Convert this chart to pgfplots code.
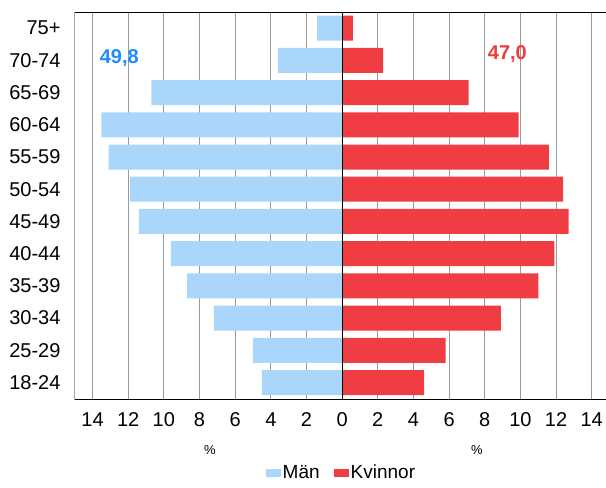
\documentclass[border=0pt]{standalone}
\usepackage{pgfplots}
\pgfplotsset{compat=1.18}
\usepackage{fontspec}
\setmainfont{Liberation Sans}
\definecolor{manblue}{HTML}{AAD6FC}
\definecolor{kvred}{HTML}{EF3D43}
\definecolor{lblblue}{HTML}{1E8CFF}
\definecolor{lblred}{HTML}{F03C3C}
\definecolor{gridgray}{HTML}{9A9A9A}
\begin{document}
\begin{tikzpicture}
\begin{axis}[
  at={(74.7pt,88.7pt)}, anchor=south west,
  scale only axis, width=531.3pt, height=386.6pt,
  xmin=-15, xmax=14.8, ymin=-0.52, ymax=11.48,
  xbar, bar width=25pt, bar shift=0pt,
  xtick={-14,-12,...,14},
  xticklabel={\pgfmathparse{abs(\tick)}\pgfmathprintnumber[fixed,precision=0]{\pgfmathresult}},
  /pgf/number format/assume math mode=true,
  ytick={0,...,11},
  yticklabels={18-24,25-29,30-34,35-39,40-44,45-49,50-54,55-59,60-64,65-69,70-74,75+},
  major tick length=0pt,
  tick style={draw=none},
  tick label style={font=\fontsize{20}{24}\selectfont},
  xticklabel style={inner sep=0pt, anchor=north, yshift=-13pt},
  yticklabel style={inner sep=0pt, anchor=east, xshift=-14pt},
  xmajorgrids, major grid style={gridgray, line width=1pt},
  axis line style={draw=none},
  legend style={draw=none, fill=none, legend columns=2,
    at={(axis description cs:0.502,-0.19)}, anchor=center,
    font=\fontsize{19}{22}\selectfont, inner sep=0pt,
    /tikz/every even column/.append style={column sep=12pt}},
  legend image code/.code={\fill[#1,draw=none] (0pt,-4pt) rectangle (15pt,4pt);},
]
\addplot[fill=manblue, draw=none] coordinates {
  (-4.5,0) (-5.0,1) (-7.2,2) (-8.7,3) (-9.6,4) (-11.4,5)
  (-11.9,6) (-13.1,7) (-13.5,8) (-10.7,9) (-3.6,10) (-1.4,11)};
\addlegendentry{Män}
\addplot[fill=kvred, draw=none] coordinates {
  (4.6,0) (5.8,1) (8.9,2) (11.0,3) (11.9,4) (12.7,5)
  (12.4,6) (11.6,7) (9.9,8) (7.1,9) (2.3,10) (0.6,11)};
\addlegendentry{Kvinnor}
\draw[black, line width=1pt] (axis cs:0,-0.52) -- (axis cs:0,11.48);
\draw[black, line width=1.3pt] (rel axis cs:1,1) -- (rel axis cs:0,1) -- (rel axis cs:0,0) -- (rel axis cs:1,0);
\node[font=\bfseries\fontsize{20}{24}\selectfont, text=lblblue] at (axis cs:-12.5,10.07) {49,8};
\node[font=\bfseries\fontsize{20}{24}\selectfont, text=lblred] at (axis cs:9.27,10.2) {47,0};
\end{axis}
\node[font=\fontsize{13}{15}\selectfont] at (210pt,38pt) {\%};
\node[font=\fontsize{13}{15}\selectfont] at (477pt,38pt) {\%};
\pgfresetboundingbox
\useasboundingbox (0pt,0pt) rectangle (606pt,488pt);
\end{tikzpicture}
\end{document}
